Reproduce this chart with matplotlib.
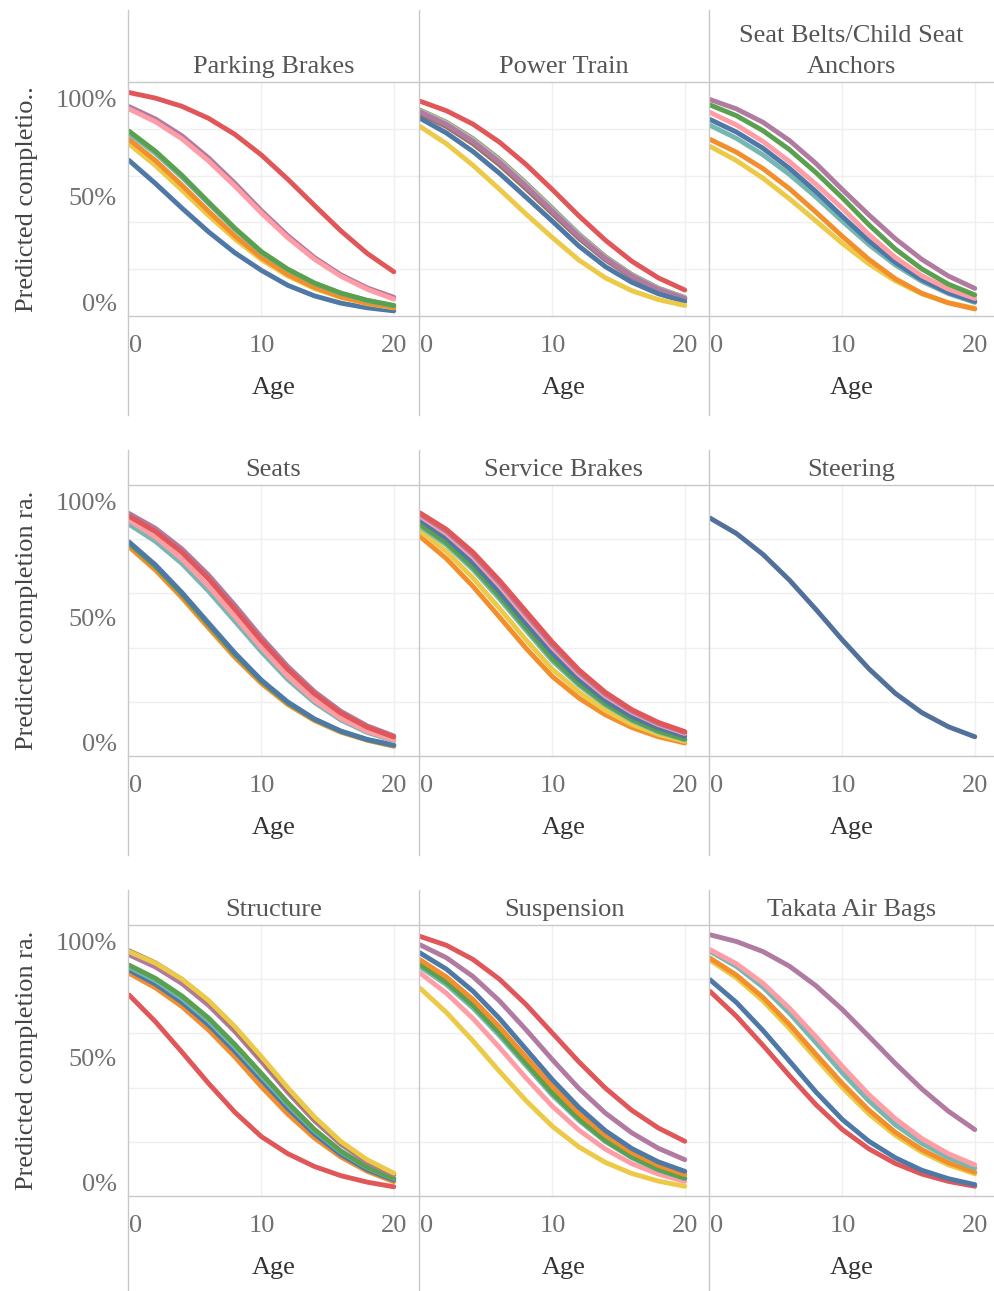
import matplotlib
matplotlib.use("Agg")
import matplotlib.pyplot as plt
from matplotlib.lines import Line2D

plt.rcParams['font.family'] = ['Liberation Serif', 'DejaVu Serif']

# predicted completion rate at every 2 years of age
ages = [0, 2, 4, 6, 8, 10, 12, 14, 16, 18, 20]

parking_brakes = {
    'blue':   [.665, .566, .461, .360, .270, .195, .131, .086, .055, .035, .022],
    'yellow': [.735, .643, .538, .430, .329, .241, .171, .118, .079, .053, .035],
    'orange': [.755, .664, .559, .448, .342, .250, .177, .122, .082, .055, .036],
    'teal':   [.780, .695, .593, .481, .371, .272, .198, .140, .097, .066, .044],
    'green':  [.790, .704, .601, .487, .375, .275, .200, .141, .098, .067, .045],
    'purple': [.895, .842, .770, .676, .567, .450, .343, .250, .176, .120, .080],
    'pink':   [.885, .830, .757, .663, .555, .440, .334, .243, .170, .114, .072],
    'red':    [.955, .931, .896, .845, .776, .688, .584, .473, .364, .267, .189],
}

power_train = {
    'green':  [.880, .828, .758, .670, .568, .460, .350, .254, .177, .119, .079],
    'gray':   [.878, .826, .755, .667, .565, .457, .348, .252, .175, .118, .078],
    'brown':  [.864, .809, .736, .646, .544, .438, .332, .240, .166, .111, .072],
    'purple': [.872, .818, .746, .657, .555, .448, .340, .246, .171, .114, .075],
    'blue':   [.845, .782, .703, .610, .508, .405, .299, .211, .144, .095, .062],
    'yellow': [.810, .736, .644, .542, .436, .335, .239, .163, .108, .070, .045],
    'red':    [.918, .877, .820, .743, .648, .540, .428, .324, .234, .163, .111],
}

seat_belts = {
    'yellow': [.725, .664, .589, .501, .406, .310, .223, .150, .095, .057, .033],
    'orange': [.755, .700, .630, .544, .444, .340, .242, .159, .097, .056, .030],
    'teal':   [.815, .759, .689, .605, .509, .405, .305, .218, .148, .096, .058],
    'blue':   [.840, .786, .717, .631, .532, .425, .321, .229, .155, .100, .062],
    'pink':   [.870, .816, .746, .660, .563, .460, .348, .250, .172, .115, .075],
    'green':  [.902, .856, .792, .711, .613, .505, .390, .286, .201, .136, .090],
    'purple': [.925, .885, .828, .750, .652, .540, .432, .330, .242, .171, .118],
}

seats = {
    'orange': [.772, .686, .584, .473, .364, .268, .190, .131, .088, .058, .036],
    'green':  [.785, .699, .597, .485, .375, .276, .196, .135, .091, .060, .039],
    'blue':   [.790, .705, .603, .491, .380, .280, .199, .137, .092, .061, .040],
    'teal':   [.855, .792, .710, .609, .497, .385, .282, .198, .133, .087, .056],
    'pink':   [.870, .808, .727, .627, .514, .400, .294, .206, .139, .091, .059],
    'purple': [.895, .840, .764, .668, .556, .438, .330, .238, .165, .111, .074],
    'red':    [.885, .828, .751, .654, .541, .425, .319, .229, .158, .106, .070],
}

service_brakes = {
    'orange': [.810, .728, .626, .513, .398, .293, .214, .152, .105, .071, .048],
    'yellow': [.830, .754, .657, .545, .429, .320, .236, .168, .117, .080, .054],
    'teal':   [.848, .779, .688, .580, .464, .351, .261, .188, .131, .089, .060],
    'green':  [.855, .787, .697, .590, .474, .360, .268, .193, .135, .092, .062],
    'blue':   [.872, .804, .714, .606, .491, .380, .283, .205, .146, .104, .073],
    'pink':   [.885, .820, .734, .628, .512, .400, .301, .221, .161, .116, .083],
    'purple': [.892, .829, .744, .639, .524, .410, .310, .228, .166, .120, .087],
    'red':    [.897, .836, .752, .648, .534, .420, .318, .235, .171, .124, .090],
}

steering = {
    'slate':  [.878, .821, .744, .649, .541, .428, .322, .231, .160, .108, .071],
}

structure = {
    'red':    [.742, .643, .531, .416, .309, .219, .156, .109, .075, .051, .034],
    'orange': [.822, .768, .699, .613, .513, .403, .302, .214, .144, .091, .053],
    'blue':   [.834, .782, .715, .632, .534, .428, .323, .229, .153, .097, .059],
    'teal':   [.845, .795, .729, .647, .549, .443, .337, .241, .163, .104, .064],
    'green':  [.852, .803, .738, .657, .559, .452, .344, .246, .166, .106, .065],
    'purple': [.890, .845, .784, .704, .607, .496, .382, .278, .191, .124, .078],
    'brown':  [.905, .860, .799, .719, .620, .508, .393, .287, .198, .131, .082],
    'yellow': [.902, .859, .800, .722, .625, .514, .399, .292, .201, .133, .084],
}

suspension = {
    'yellow': [.767, .677, .572, .460, .352, .257, .181, .124, .083, .055, .036],
    'pink':   [.823, .748, .655, .548, .436, .331, .243, .173, .119, .081, .054],
    'teal':   [.846, .780, .694, .592, .482, .372, .279, .201, .141, .096, .064],
    'green':  [.854, .789, .704, .602, .491, .380, .285, .205, .144, .098, .066],
    'orange': [.872, .808, .725, .624, .513, .404, .305, .224, .160, .113, .079],
    'blue':   [.897, .837, .756, .655, .542, .429, .327, .241, .175, .126, .091],
    'purple': [.927, .879, .810, .720, .614, .503, .397, .306, .233, .176, .134],
    'red':    [.958, .925, .873, .800, .707, .601, .495, .398, .316, .251, .202],
}

takata_air_bags = {
    'red':    [.755, .663, .556, .444, .337, .245, .174, .120, .081, .054, .036],
    'blue':   [.798, .714, .611, .498, .384, .282, .202, .141, .095, .064, .042],
    'yellow': [.870, .805, .720, .618, .508, .400, .303, .224, .162, .115, .082],
    'orange': [.878, .815, .733, .633, .523, .415, .317, .235, .171, .123, .088],
    'teal':   [.903, .847, .771, .675, .566, .454, .351, .263, .194, .142, .103],
    'pink':   [.909, .857, .785, .693, .588, .478, .374, .285, .212, .156, .115],
    'purple': [.964, .939, .902, .848, .776, .688, .589, .489, .395, .313, .245],
}

palette = {
    'blue': '#4e79a7', 'orange': '#f28e2b', 'red': '#e15759', 'teal': '#76b7b2',
    'green': '#59a14f', 'yellow': '#edc948', 'purple': '#b07aa1', 'pink': '#ff9da7',
    'brown': '#9c755f', 'gray': '#bab0ac', 'slate': '#51709b',
}

panels = [
    ("Parking Brakes", parking_brakes),
    ("Power Train", power_train),
    ("Seat Belts/Child Seat\nAnchors", seat_belts),
    ("Seats", seats),
    ("Service Brakes", service_brakes),
    ("Steering", steering),
    ("Structure", structure),
    ("Suspension", suspension),
    ("Takata Air Bags", takata_air_bags),
]
row_ylabels = ["Predicted completio..", "Predicted completion ra.", "Predicted completion ra."]
y_ticks = [0, 0.5, 1]
y_ticklabels = ['0%', '50%', '100%']

W, H = 994, 1291
fig = plt.figure(figsize=(W / 100, H / 100), dpi=100)

# layout in pixels (from the top of the image)
col_left = [128, 419, 709]
col_width = [291, 290, 285]
pane_top = [82, 485, 925]
pane_bot = [316, 756, 1196]
block_top = [10, 450, 890]
block_bot = [415, 855, 1291]
px_year = 13.24
# tableau pulls the end labels inside the pane (pixels, + is up)
label_shift = {0: 11, 0.5: 0, 1: -19}

line_gray = '#c8c8c8'
grid_gray = '#efefef'
fs = 19

for i, (title, curves) in enumerate(panels):
    r, c = divmod(i, 3)
    l, w = col_left[c], col_width[c]
    t, b = pane_top[r], pane_bot[r]
    ax = fig.add_axes([l / W, 1 - b / H, w / W, (b - t) / H])
    x0 = -1 / px_year
    ax.set_xlim(x0, x0 + w / px_year)
    ax.set_ylim(0, 1)

    for y in [0.2, 0.4, 0.6, 0.8]:
        ax.axhline(y, color=grid_gray, lw=1, zorder=0)
    for x in [10, 20]:
        ax.axvline(x, color=grid_gray, lw=1, zorder=0)

    for name, vals in curves.items():
        ax.plot(ages, vals, color=palette[name], lw=3.5,
                solid_capstyle='round', solid_joinstyle='round', zorder=2)

    for side in ['left', 'right']:
        ax.spines[side].set_visible(False)
    for side in ['top', 'bottom']:
        ax.spines[side].set_color(line_gray)
        ax.spines[side].set_linewidth(1)

    ax.set_xticks([0, 10, 20])
    ax.set_xticklabels(['0', '10', '20'])
    ax.xaxis.get_major_ticks()[0].label1.set_horizontalalignment('left')
    ax.tick_params(axis='x', length=0, labelsize=fs, labelcolor='#707070', pad=13.5)
    ax.set_yticks([])

    if c == 0:
        for v, lab in zip(y_ticks, y_ticklabels):
            ax.annotate(lab, xy=(0, v), xycoords=('axes fraction', 'data'),
                        xytext=(-11, label_shift[v]), textcoords='offset pixels',
                        ha='right', va='center', fontsize=fs, color='#707070',
                        annotation_clip=False)

    fig.text((l + w / 2) / W, 1 - (t - 4) / H, title, ha='center', va='bottom',
             fontsize=fs, color='#555555', linespacing=1.55)
    fig.text((l + w / 2) / W, 1 - (b + 72) / H, 'Age', ha='center', va='center',
             fontsize=fs, color='#333333')

for r in range(3):
    fig.text(27 / W, 1 - ((pane_top[r] + pane_bot[r]) / 2) / H, row_ylabels[r],
             rotation=90, ha='center', va='center', fontsize=fs, color='#444444')
    for x in col_left:
        fig.add_artist(Line2D([x / W, x / W], [1 - block_bot[r] / H, 1 - block_top[r] / H],
                              color=line_gray, lw=1))

fig.savefig('out.png', dpi=100)
